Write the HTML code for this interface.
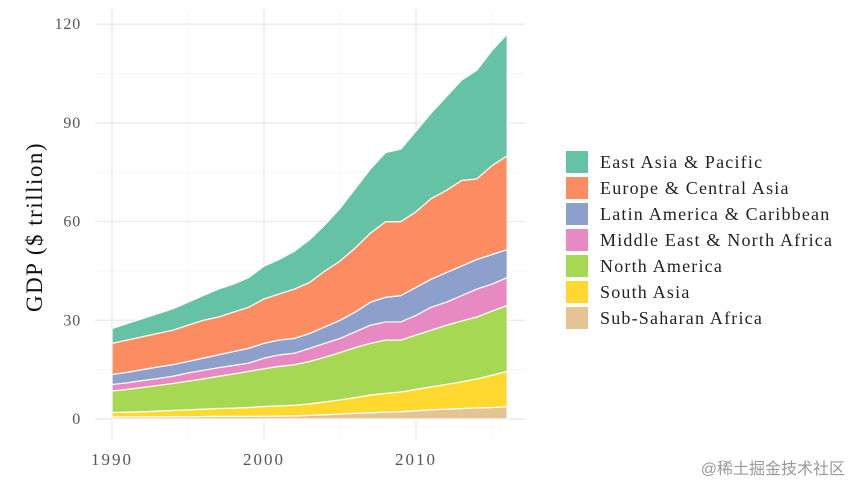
<!DOCTYPE html>
<html><head><meta charset="utf-8">
<style>
body{margin:0;background:#fff;}
svg{display:block;}
.tick{font-family:"Liberation Serif",serif;font-size:16px;fill:#555;letter-spacing:0.8px;}
.xtick{font-family:"Liberation Serif",serif;font-size:17px;fill:#555;letter-spacing:2px;}
.leg{font-family:"Liberation Serif",serif;font-size:18px;fill:#222;letter-spacing:1.2px;}
</style></head>
<body>
<svg id="chart" width="850" height="485" viewBox="0 0 850 485">
<g id="grid"></g>
<g id="areas"></g>
<g id="axes"></g>
<text transform="translate(42,227) rotate(-90)" text-anchor="middle" style="font-family:'Liberation Serif',serif;font-size:23px;fill:#111;letter-spacing:1.5px;">GDP ($ trillion)</text>
<g id="legend"></g>
<text x="845" y="474" text-anchor="end" style="font-family:'Liberation Sans','Noto Sans CJK SC',sans-serif;font-size:16px;fill:#999;">@稀土掘金技术社区</text>
</svg>
<script>
const years = [1990,1991,1992,1993,1994,1995,1996,1997,1998,1999,2000,2001,2002,2003,2004,2005,2006,2007,2008,2009,2010,2011,2012,2013,2014,2015,2016];
const regions = ["East Asia & Pacific","Europe & Central Asia","Latin America & Caribbean","Middle East & North Africa","North America","South Asia","Sub-Saharan Africa"];
const colors = ["#66c2a5","#fc8d62","#8da0cb","#e78ac3","#a6d854","#ffd92f","#e5c494"];
const ssa = [0.6,0.62,0.64,0.66,0.68,0.7,0.75,0.8,0.8,0.8,0.85,0.9,0.95,1.1,1.3,1.5,1.7,1.9,2.1,2.2,2.5,2.8,3,3.2,3.4,3.5,3.7];
const sa = [1.4,1.48,1.56,1.74,1.92,2.1,2.25,2.4,2.5,2.7,2.95,3.1,3.25,3.5,3.9,4.3,4.8,5.4,5.7,6.0,6.5,7.0,7.5,8.1,8.8,9.8,10.8];
const na = [6.5,6.9,7.4,7.8,8.2,8.7,9.2,9.8,10.4,11,11.5,12,12.3,12.9,13.6,14.4,15.2,15.7,16.2,15.8,16.5,17.2,18,18.5,18.8,19.5,20];
const mena = [2,2,2.1,2.1,2.2,2.5,2.6,2.6,2.6,2.5,3.2,3.5,3.5,4,4.2,4.3,4.8,5.5,5.5,5.5,6,7,7,7.7,8.5,8.2,8.5];
const lac = [3,3.2,3.3,3.5,3.5,3.5,3.7,3.9,4.2,4.5,4.5,4.5,4.5,4.5,5,5.5,6,7,7.5,8,8.5,8.5,9,9,9,9,8.5];
const eca = [9.5,9.8,10,10.2,10.5,11,11.5,11.5,12,12.5,13.5,14,15,15.5,17,18,19.5,21,23,22.5,23,24.5,25,26,24.5,27,28.5];
const eap = [4.5,5,5.5,6,6.5,7,7.5,8.5,8.5,9,10,10.5,11.5,13,14,16,18,19.5,21,22,24.5,26,28.5,30.5,33,35,37];
const yTicks = [0,30,60,90,120];
const xTicks = [1990,2000,2010];
const xMinor = [1995,2005,2015];

const NS="http://www.w3.org/2000/svg";
const x = v => 112 + (v-1990)*15.2;
const y = v => 419 - v*3.29;
function mk(tag, attrs, parent){const e=document.createElementNS(NS,tag);for(const k in attrs)e.setAttribute(k,attrs[k]);parent.appendChild(e);return e;}

const grid=document.getElementById('grid');
yTicks.forEach((t,i)=>{
  const l=mk('line',{x1:95,x2:525,y1:y(t),y2:y(t),stroke:'#ebebeb','stroke-width':1.4},grid);
  
  
  if(i<yTicks.length-1){const m=mk('line',{x1:95,x2:525,y1:y(t+15),y2:y(t+15),stroke:'#f3f3f3','stroke-width':0.8},grid);
  
  }
});
xTicks.concat(xMinor).forEach(t=>{
  const major=xTicks.includes(t);
  const l=mk('line',{x1:x(t),x2:x(t),y1:10,y2:440,stroke:major?'#ebebeb':'#f3f3f3','stroke-width':major?1.4:0.8},grid);
  
  
});

const series=[eap,eca,lac,mena,na,sa,ssa];
const areas=document.getElementById('areas');
const base=years.map(()=>0);
for(let s=series.length-1;s>=0;s--){
  const lo=base.slice();
  const hi=lo.map((b,i)=>b+series[s][i]);
  let d='M'+years.map((yr,i)=>x(yr)+','+y(hi[i])).join('L');
  d+='L'+years.slice().reverse().map((yr,j)=>{const i=years.length-1-j;return x(yr)+','+y(lo[i]);}).join('L')+'Z';
  const p=mk('path',{d:d,fill:colors[s],stroke:'#fff','stroke-width':1.2,'stroke-linejoin':'round'},areas);
  
  
  hi.forEach((v,i)=>base[i]=v);
}

const axes=document.getElementById('axes');
yTicks.forEach(t=>{
  const tx=mk('text',{x:81,y:y(t)+5,'text-anchor':'end',class:'tick'},axes);
  tx.textContent=t;
  
  
});
xTicks.forEach(t=>{
  const tx=mk('text',{x:x(t),y:465,'text-anchor':'middle',class:'xtick'},axes);
  tx.textContent=t;
  
  
});

const leg=document.getElementById('legend');
regions.forEach((r,i)=>{
  const cy=162+i*26;
  const g=mk('g',{},leg);
  
  
  mk('rect',{x:566,y:cy-11,width:22,height:22,fill:colors[i]},g);
  const t=mk('text',{x:600,y:cy+6,class:'leg'},g);
  t.textContent=r;
});
</script>
</body></html>
